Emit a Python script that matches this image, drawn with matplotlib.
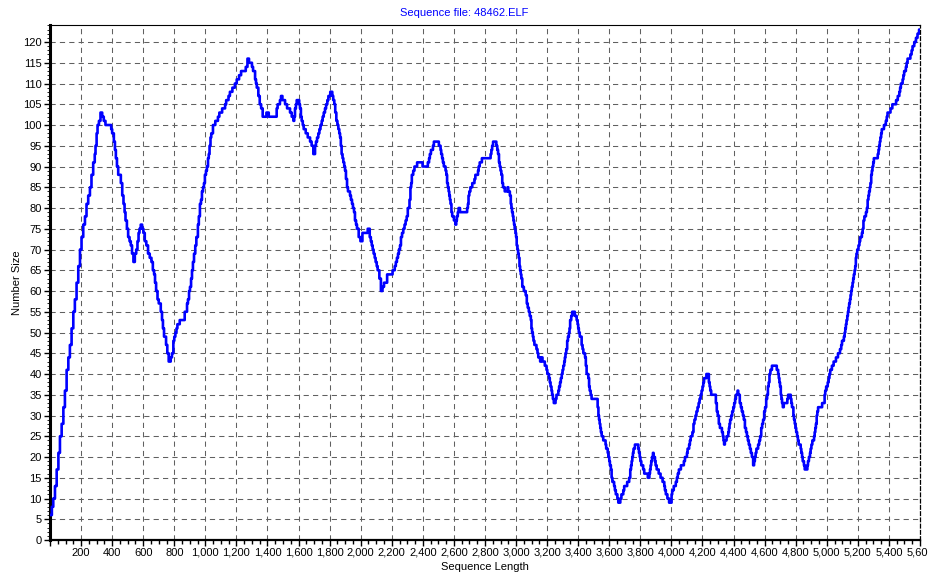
import matplotlib
matplotlib.use("Agg")
import matplotlib.pyplot as plt
from matplotlib.ticker import MultipleLocator, FuncFormatter

plt.rcParams['font.family'] = ['Liberation Sans', 'DejaVu Sans']
plt.rcParams['font.size'] = 8

# sequence length (x) and number size (y)
seq_len = [
    0, 12, 21, 32, 43, 54, 64, 75, 86, 96, 107, 118, 128, 139, 150, 160, 171, 182, 193, 203,
    214, 225, 235, 246, 257, 267, 278, 288, 293, 300, 306, 315, 325, 336, 346, 357, 394, 400, 411, 418,
    424, 431, 439, 456, 465, 473, 480, 486, 495, 503, 512, 520, 528, 537, 546, 555, 563, 570, 576, 584,
    593, 601, 610, 620, 631, 642, 653, 662, 670, 676, 683, 692, 700, 713, 721, 727, 734, 747, 755, 764,
    777, 785, 794, 800, 807, 814, 820, 835, 867, 882, 888, 895, 901, 908, 914, 920, 927, 935, 942, 952,
    958, 965, 972, 978, 985, 991, 997, 1004, 1010, 1017, 1022, 1027, 1033, 1038, 1049, 1056, 1064, 1081, 1090, 1098,
    1108, 1119, 1127, 1134, 1149, 1158, 1166, 1174, 1181, 1190, 1202, 1217, 1230, 1251, 1260, 1271, 1281, 1294, 1300, 1307,
    1320, 1326, 1331, 1341, 1350, 1359, 1369, 1393, 1408, 1449, 1459, 1465, 1470, 1480, 1487, 1496, 1505, 1513, 1526, 1536,
    1545, 1556, 1567, 1572, 1577, 1583, 1588, 1599, 1604, 1609, 1615, 1620, 1627, 1633, 1646, 1659, 1674, 1684, 1695, 1706,
    1712, 1719, 1727, 1734, 1741, 1749, 1755, 1762, 1770, 1777, 1785, 1792, 1804, 1817, 1823, 1830, 1836, 1843, 1850, 1856,
    1862, 1867, 1872, 1877, 1883, 1888, 1894, 1899, 1905, 1912, 1918, 1925, 1931, 1937, 1944, 1950, 1957, 1963, 1970, 1976,
    1987, 1998, 2011, 2028, 2045, 2058, 2065, 2071, 2077, 2083, 2090, 2096, 2103, 2109, 2120, 2130, 2140, 2150, 2160, 2170,
    2192, 2205, 2219, 2226, 2233, 2240, 2246, 2253, 2259, 2266, 2274, 2282, 2289, 2296, 2303, 2314, 2320, 2325, 2329, 2338,
    2346, 2363, 2394, 2398, 2424, 2432, 2440, 2445, 2452, 2458, 2465, 2471, 2497, 2503, 2510, 2514, 2518, 2524, 2529, 2535,
    2540, 2546, 2551, 2556, 2561, 2566, 2570, 2574, 2578, 2584, 2589, 2600, 2609, 2615, 2619, 2625, 2630, 2639, 2680, 2685,
    2690, 2694, 2699, 2706, 2712, 2718, 2725, 2732, 2738, 2751, 2755, 2759, 2766, 2772, 2780, 2830, 2836, 2841, 2846, 2852,
    2862, 2868, 2873, 2879, 2884, 2890, 2895, 2900, 2905, 2911, 2916, 2927, 2945, 2950, 2953, 2960, 2966, 2970, 2974, 2979,
    2983, 2987, 2991, 2996, 3000, 3004, 3009, 3013, 3017, 3022, 3026, 3030, 3034, 3040, 3045, 3050, 3056, 3062, 3069, 3075,
    3082, 3088, 3095, 3099, 3103, 3108, 3112, 3118, 3125, 3131, 3138, 3143, 3148, 3155, 3160, 3166, 3170, 3174, 3185, 3190,
    3196, 3201, 3206, 3212, 3217, 3222, 3228, 3232, 3237, 3243, 3249, 3254, 3260, 3267, 3272, 3277, 3283, 3288, 3294, 3299,
    3304, 3310, 3314, 3318, 3323, 3329, 3334, 3340, 3344, 3348, 3355, 3361, 3372, 3378, 3383, 3390, 3396, 3400, 3404, 3410,
    3417, 3422, 3428, 3433, 3439, 3444, 3449, 3454, 3460, 3465, 3470, 3474, 3480, 3486, 3519, 3525, 3530, 3534, 3538, 3542,
    3546, 3551, 3556, 3561, 3576, 3580, 3585, 3590, 3594, 3600, 3604, 3610, 3615, 3620, 3626, 3631, 3636, 3642, 3647, 3652,
    3658, 3666, 3671, 3678, 3684, 3690, 3696, 3709, 3715, 3722, 3728, 3735, 3740, 3744, 3748, 3752, 3756, 3761, 3765, 3782,
    3787, 3791, 3796, 3800, 3806, 3812, 3818, 3825, 3845, 3848, 3855, 3858, 3862, 3866, 3870, 3875, 3881, 3885, 3889, 3894,
    3898, 3905, 3911, 3918, 3924, 3930, 3937, 3943, 3949, 3954, 3958, 3964, 3969, 3974, 3979, 3985, 3995, 4001, 4005, 4009,
    4015, 4022, 4028, 4035, 4041, 4048, 4054, 4061, 4074, 4080, 4087, 4094, 4100, 4104, 4108, 4114, 4119, 4124, 4129, 4135,
    4142, 4148, 4155, 4161, 4168, 4175, 4181, 4188, 4194, 4200, 4205, 4210, 4215, 4225, 4236, 4241, 4246, 4250, 4256, 4280,
    4286, 4292, 4298, 4305, 4312, 4318, 4325, 4331, 4335, 4339, 4344, 4348, 4355, 4361, 4366, 4370, 4374, 4378, 4385, 4391,
    4398, 4404, 4410, 4415, 4420, 4426, 4430, 4434, 4440, 4447, 4453, 4460, 4466, 4473, 4480, 4486, 4492, 4498, 4505, 4511,
    4518, 4526, 4532, 4537, 4542, 4547, 4552, 4558, 4565, 4571, 4578, 4584, 4590, 4597, 4603, 4610, 4616, 4621, 4626, 4631,
    4637, 4642, 4647, 4659, 4674, 4678, 4682, 4687, 4691, 4695, 4699, 4704, 4708, 4712, 4717, 4723, 4742, 4746, 4751, 4764,
    4768, 4772, 4776, 4781, 4785, 4789, 4794, 4798, 4803, 4809, 4814, 4819, 4826, 4832, 4836, 4841, 4845, 4849, 4853, 4858,
    4871, 4875, 4879, 4885, 4892, 4896, 4901, 4907, 4913, 4918, 4922, 4926, 4930, 4935, 4939, 4944, 4948, 4965, 4970, 4982,
    4986, 4990, 4996, 5001, 5006, 5012, 5017, 5022, 5028, 5033, 5038, 5044, 5052, 5059, 5066, 5072, 5078, 5085, 5089, 5093,
    5098, 5102, 5110, 5115, 5119, 5123, 5127, 5132, 5136, 5140, 5144, 5149, 5153, 5157, 5161, 5166, 5170, 5174, 5179, 5183,
    5187, 5191, 5196, 5200, 5204, 5210, 5215, 5220, 5226, 5231, 5236, 5242, 5247, 5252, 5258, 5263, 5268, 5272, 5277, 5281,
    5286, 5290, 5294, 5299, 5303, 5316, 5328, 5333, 5337, 5341, 5345, 5350, 5354, 5362, 5368, 5375, 5380, 5386, 5391, 5396,
    5410, 5422, 5430, 5440, 5446, 5452, 5457, 5461, 5467, 5472, 5477, 5482, 5488, 5493, 5498, 5504, 5509, 5514, 5520, 5525,
    5538, 5546, 5552, 5557, 5563, 5568, 5574, 5579, 5584, 5589, 5594, 5600,
]
num_size = [
    6, 8, 10, 13, 17, 21, 25, 28, 32, 36, 41, 44, 47, 51, 55, 58, 62, 66, 70, 73,
    76, 78, 81, 83, 85, 88, 91, 93, 95, 98, 100, 101, 103, 102, 101, 100, 99, 98, 96, 94,
    92, 90, 88, 86, 83, 81, 79, 77, 75, 73, 72, 71, 69, 67, 69, 70, 72, 74, 75, 76,
    75, 74, 72, 71, 69, 68, 67, 65, 64, 62, 60, 58, 57, 55, 53, 51, 49, 47, 45, 43,
    44, 45, 48, 49, 50, 51, 52, 53, 55, 57, 58, 60, 61, 63, 65, 67, 69, 71, 73, 76,
    78, 81, 82, 84, 85, 86, 88, 89, 90, 92, 93, 95, 97, 98, 100, 100, 101, 102, 103, 103,
    104, 104, 105, 106, 107, 108, 108, 109, 109, 110, 111, 112, 113, 113, 114, 116, 115, 115, 114, 113,
    111, 110, 109, 107, 105, 104, 102, 103, 102, 102, 104, 105, 105, 106, 107, 106, 106, 105, 104, 104,
    103, 102, 101, 102, 104, 105, 106, 106, 105, 104, 102, 101, 100, 99, 98, 97, 96, 95, 93, 95,
    96, 97, 98, 99, 100, 101, 102, 103, 104, 105, 106, 107, 108, 107, 106, 105, 103, 101, 100, 99,
    98, 97, 95, 93, 92, 91, 90, 89, 87, 85, 84, 84, 83, 82, 81, 80, 79, 77, 76, 75,
    73, 72, 74, 74, 75, 73, 72, 71, 70, 69, 68, 67, 66, 65, 63, 60, 61, 62, 62, 64,
    64, 65, 66, 67, 68, 69, 70, 71, 73, 74, 75, 76, 77, 78, 80, 82, 85, 86, 88, 89,
    90, 91, 91, 90, 90, 91, 92, 93, 94, 94, 95, 96, 96, 95, 95, 94, 93, 92, 91, 90,
    90, 89, 88, 86, 85, 84, 83, 82, 81, 79, 78, 77, 76, 77, 78, 79, 80, 79, 79, 80,
    81, 83, 84, 85, 85, 86, 86, 87, 88, 88, 89, 90, 91, 91, 92, 92, 93, 94, 95, 96,
    96, 96, 95, 94, 93, 91, 90, 89, 88, 86, 85, 84, 85, 84, 84, 83, 81, 80, 79, 78,
    77, 76, 75, 74, 73, 71, 70, 69, 68, 66, 65, 64, 63, 61, 61, 60, 60, 59, 57, 56,
    55, 54, 53, 51, 50, 49, 48, 47, 47, 46, 45, 44, 44, 43, 44, 44, 43, 43, 42, 42,
    41, 40, 40, 39, 38, 37, 36, 35, 34, 33, 33, 34, 35, 35, 36, 37, 38, 39, 40, 41,
    42, 43, 44, 45, 46, 48, 49, 50, 51, 53, 54, 55, 55, 54, 54, 53, 52, 51, 50, 49,
    49, 47, 46, 45, 45, 44, 42, 40, 40, 39, 37, 36, 35, 34, 34, 32, 30, 29, 28, 27,
    26, 25, 25, 24, 23, 22, 22, 21, 20, 19, 18, 17, 15, 14, 14, 13, 12, 11, 11, 10,
    9, 9, 10, 11, 11, 12, 13, 13, 14, 14, 15, 17, 18, 19, 20, 21, 22, 22, 23, 23,
    22, 21, 20, 19, 18, 18, 17, 16, 16, 15, 15, 16, 17, 18, 19, 20, 21, 20, 20, 19,
    18, 17, 17, 16, 16, 15, 15, 14, 14, 13, 12, 11, 11, 10, 10, 9, 9, 11, 12, 12,
    13, 13, 14, 15, 16, 17, 17, 18, 18, 19, 20, 20, 21, 22, 22, 23, 24, 25, 25, 26,
    28, 29, 30, 31, 32, 33, 34, 35, 36, 37, 38, 39, 39, 40, 40, 38, 37, 36, 35, 35,
    33, 31, 30, 28, 27, 27, 26, 25, 24, 23, 24, 24, 25, 25, 26, 27, 28, 29, 30, 31,
    32, 33, 34, 35, 35, 36, 35, 35, 33, 32, 31, 30, 29, 27, 26, 25, 24, 23, 22, 21,
    20, 18, 19, 20, 21, 22, 22, 23, 24, 25, 27, 28, 29, 31, 32, 34, 35, 37, 38, 40,
    41, 41, 42, 42, 42, 41, 41, 40, 39, 38, 37, 35, 34, 33, 32, 33, 33, 34, 35, 35,
    34, 33, 32, 32, 30, 29, 28, 27, 26, 25, 24, 23, 23, 22, 21, 20, 19, 19, 18, 17,
    17, 18, 19, 20, 21, 22, 23, 24, 24, 25, 26, 27, 28, 30, 31, 32, 32, 32, 33, 33,
    35, 36, 37, 37, 38, 39, 40, 41, 41, 42, 42, 43, 43, 44, 44, 45, 45, 46, 46, 47,
    48, 48, 49, 50, 51, 52, 53, 54, 55, 56, 57, 58, 59, 60, 61, 62, 63, 64, 65, 66,
    68, 69, 70, 70, 71, 72, 73, 73, 74, 75, 77, 78, 78, 79, 80, 82, 83, 84, 85, 86,
    88, 89, 90, 91, 92, 92, 93, 94, 95, 96, 97, 98, 99, 99, 100, 100, 101, 102, 103, 103,
    104, 105, 105, 105, 106, 106, 107, 107, 108, 109, 110, 110, 111, 112, 113, 113, 114, 115, 116, 116,
    117, 118, 119, 119, 120, 120, 121, 121, 122, 122, 123, 123,
]

fig = plt.figure(figsize=(9.29, 5.8), dpi=100)
ax = fig.add_axes([50 / 929, 1 - 540 / 580, 870 / 929, 515 / 580])

ax.plot(seq_len, num_size, color='#0000FF', lw=1.9, drawstyle='steps-post', zorder=3)

ax.set_xlim(0, 5600)
ax.set_ylim(0, 124.1)

ax.xaxis.set_major_locator(MultipleLocator(200))
ax.xaxis.set_minor_locator(MultipleLocator(50))
ax.yaxis.set_major_locator(MultipleLocator(5))
ax.yaxis.set_minor_locator(MultipleLocator(1))
ax.xaxis.set_major_formatter(FuncFormatter(lambda v, p: '' if v == 0 else f'{int(v):,}'))
ax.yaxis.set_major_formatter(FuncFormatter(lambda v, p: f'{int(v)}'))

ax.tick_params(axis='x', which='major', direction='out', length=4, width=1, pad=1.5, labelsize=8)
ax.tick_params(axis='x', which='minor', direction='out', length=3, width=1)
ax.tick_params(axis='y', which='major', direction='out', length=4, width=1, pad=2, labelsize=8)
ax.tick_params(axis='y', which='minor', direction='out', length=2, width=0.6)

ax.grid(True, which='major', color='#606060', lw=0.75, linestyle=(0, (5, 4)))

ax.spines['left'].set_linewidth(2.2)
ax.spines['bottom'].set_linewidth(1.6)
ax.spines['top'].set_linewidth(0.8)
ax.spines['right'].set_linewidth(0.9)
ax.spines['right'].set_linestyle((0, (3, 2)))

fig.text(464 / 929, 1 - 13 / 580, 'Sequence file: 48462.ELF', color='#0000FF',
         ha='center', va='center', fontsize=8)
fig.text(485 / 929, 1 - 567 / 580, 'Sequence Length', ha='center', va='center', fontsize=8)
fig.text(17 / 929, 1 - 283 / 580, 'Number Size', ha='center', va='center',
         rotation=90, fontsize=8)

fig.savefig('out.png', dpi=100)
